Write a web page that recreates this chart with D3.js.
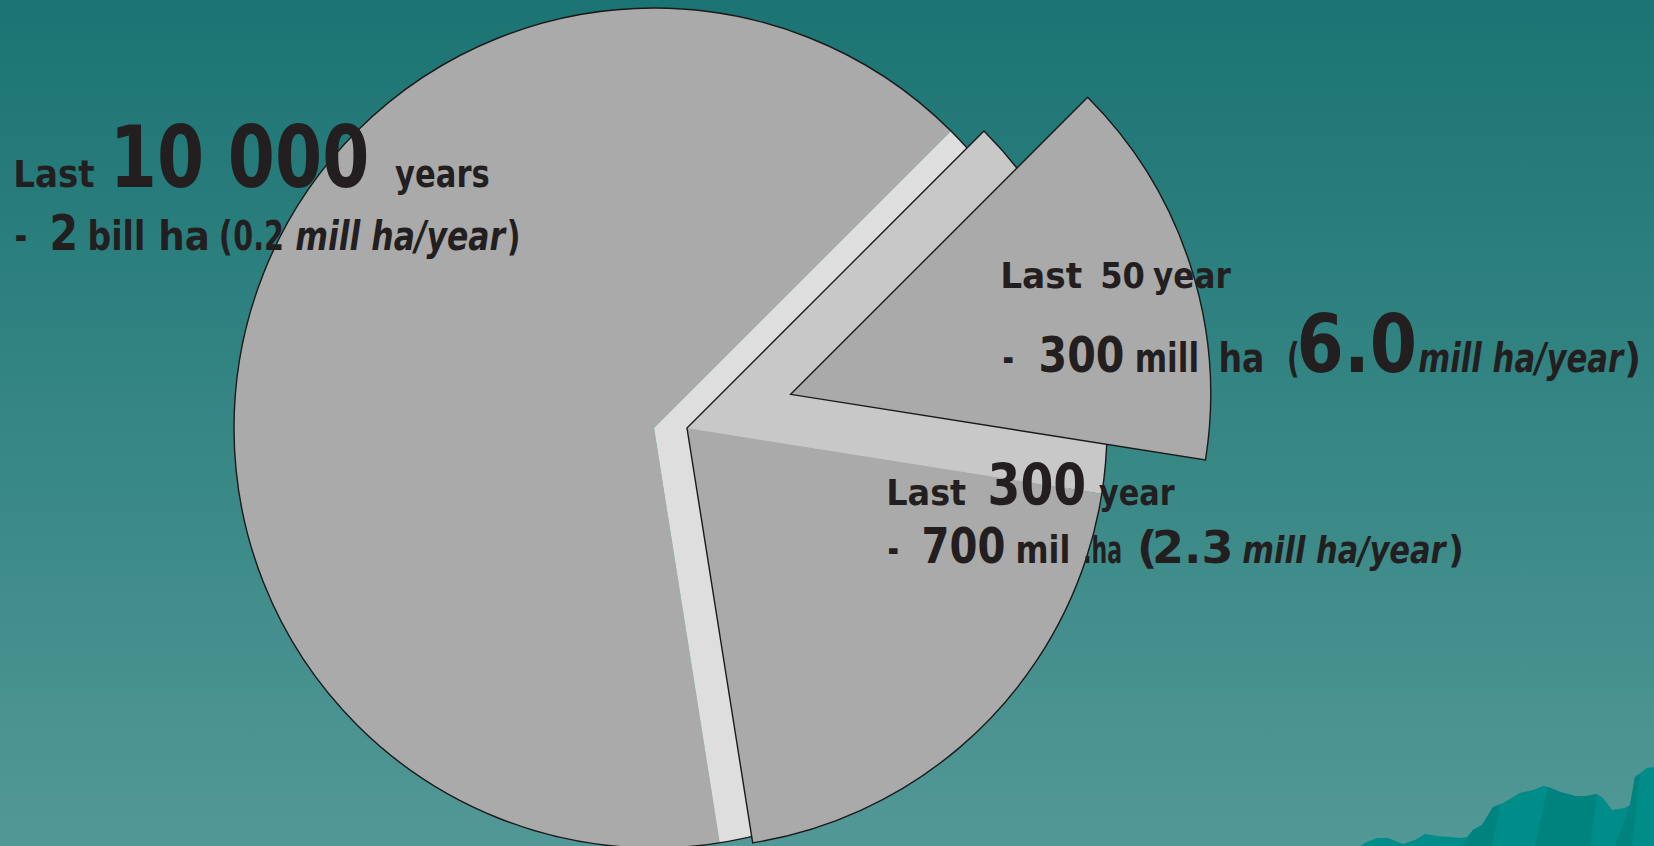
<!DOCTYPE html>
<html>
<head>
<meta charset="utf-8">
<script src="https://cdn.jsdelivr.net/npm/d3@7"></script>
<style>
  html, body { margin: 0; padding: 0; background: #1b7473; overflow: hidden; }
  svg { display: block; }
</style>
</head>
<body>
<svg id="chart" width="1654" height="846"></svg>
<script>
// ---- data (million ha of land converted, by period) ----
const categories = ["Last 50 years", "300 to 50 years ago", "10 000 to 300 years ago"];
const areaMillHa = [300, 400, 1300];          // sums to 2 000 mill ha (2 bill ha)
const periodYears = [50, 300, 10000];
const ratesMillHaPerYear = [6.0, 2.3, 0.2];

// label text lines (content), layout kept separately below
const labelText = [
  [["Last"], ["10 000"], ["years"]],
  [["-"], ["2"], ["bill"], ["ha"], ["("], ["0.2"], ["mill ha/year", "i"], [")"]],
  [["Last"], ["50"], ["year"]],
  [["-"], ["300"], ["mill"], ["ha"], ["("], ["6.0"], ["mill ha/year", "i"], [")"]],
  [["Last"], ["300"], ["year"]],
  [["-"], ["700"], ["mil"], [".ha"], ["("], ["2.3"], ["mill ha/year", "i"], [")"]]
];

// ---- layout ----
const W = 1654, H = 846;
const R = 420;
const A = [654, 428];            // pie centre
const shiftB = [33, 0];          // 300-year sector displacement
const explodeC = 109;            // 50-year sector further explode

const lineBase = [187, 250, 288, 372, 505, 563];
// [fontSize, inkLeft, inkRight] for each segment
const lineLayout = [
  [[37, 16, 94], [85, 117, 367], [37, 395, 489]],
  [[40, 16, 26], [50, 52, 75], [40, 90, 143], [40, 161, 207], [40, 221, 231], [40, 234, 282], [40, 296, 507], [40, 509, 518]],
  [[36, 1003, 1082], [36, 1102, 1144], [36, 1153, 1231]],
  [[40, 1004, 1013], [50, 1041, 1123], [40, 1137, 1197], [40, 1221, 1262], [40, 1289, 1298], [80, 1300, 1414], [40, 1419, 1625], [40, 1627, 1638]],
  [[36, 889, 966], [57, 990, 1084], [36, 1099, 1175]],
  [[40, 889, 898], [50, 924, 1004], [37, 1018, 1068], [37, 1085, 1121], [45, 1140, 1154], [45, 1155, 1230], [37, 1243, 1448], [37, 1450, 1461]]
];

const svg = d3.select("#chart");
const defs = svg.append("defs");
const grad = defs.append("linearGradient").attr("id", "bg").attr("x1", 0).attr("y1", 0).attr("x2", 0).attr("y2", 1);
grad.append("stop").attr("offset", "0%").attr("stop-color", "#1b7473");
grad.append("stop").attr("offset", "55%").attr("stop-color", "#388886");
grad.append("stop").attr("offset", "100%").attr("stop-color", "#529896");
svg.append("rect").attr("width", W).attr("height", H).attr("fill", "url(#bg)");

// decorative mountain silhouette (bottom right)
const mountain = [[1360,846],[1367,842],[1377,838],[1388,838],[1403,844],[1415,840],[1425,834],[1437,836],[1450,837],[1460,838],[1467,837],[1473,830],[1482,825],[1490,812],[1493,807],[1503,803],[1520,793],[1533,790],[1543,786],[1548,787],[1560,792],[1575,796],[1587,796],[1597,794],[1603,798],[1612,810],[1625,808],[1630,805],[1635,777],[1647,768],[1654,767],[1654,846]];
svg.append("path").attr("d", d3.line()(mountain) + "Z").attr("fill", "#008c88");
const facets = [
  [[1548,787],[1560,792],[1575,796],[1587,796],[1597,794],[1590,846],[1535,846]],
  [[1473,830],[1482,825],[1490,812],[1493,807],[1500,805],[1492,846],[1462,846]],
  [[1630,805],[1635,777],[1640,774],[1632,846],[1615,846]]
];
facets.forEach(f => svg.append("path").attr("d", d3.line()(f) + "Z").attr("fill", "#00827f"));

// ---- pie ----
const deg = Math.PI / 180;
const pie = d3.pie().sort(null).value(d => d).startAngle(45 * deg).endAngle(45 * deg + 2 * Math.PI);
const arcs = pie(areaMillHa);
const arc = d3.arc().innerRadius(0).outerRadius(R);
const recent = { startAngle: arcs[0].startAngle, endAngle: arcs[1].endAngle };

// layer A: full circle in place
const gA = svg.append("g").attr("transform", `translate(${A[0]},${A[1]})`);
gA.append("path").attr("d", arc(arcs[2])).attr("fill", "#aaaaaa");
gA.append("path").attr("d", arc(recent)).attr("fill", "#dedede");
gA.append("circle").attr("r", R).attr("fill", "none").attr("stroke", "#1a1a1a").attr("stroke-width", 1.4);

// layer B: last 300 years sector, displaced
const B = [A[0] + shiftB[0], A[1] + shiftB[1]];
const gB = svg.append("g").attr("transform", `translate(${B[0]},${B[1]})`);
gB.append("path").attr("d", arc(arcs[0])).attr("fill", "#c8c8c8");
gB.append("path").attr("d", arc(arcs[1])).attr("fill", "#aaaaaa");
gB.append("path").attr("d", arc(recent)).attr("fill", "none").attr("stroke", "#1a1a1a").attr("stroke-width", 1.4);

// layer C: last 50 years sector, exploded further
const mid = (arcs[0].startAngle + arcs[0].endAngle) / 2;
const C = [B[0] + explodeC * Math.sin(mid), B[1] - explodeC * Math.cos(mid)];
const gC = svg.append("g").attr("transform", `translate(${C[0]},${C[1]})`);
gC.append("path").attr("d", arc(arcs[0])).attr("fill", "#aaaaaa").attr("stroke", "#1a1a1a").attr("stroke-width", 1.4);

// ---- labels ----
const cv = document.createElement("canvas").getContext("2d");
const family = '"DejaVu Sans", "Liberation Sans", sans-serif';
const gT = svg.append("g");
labelText.forEach((line, li) => {
  line.forEach((seg, si) => {
    const [txt, style] = seg;
    const [size, x0, x1] = lineLayout[li][si];
    const italic = style === "i";
    cv.font = `${italic ? "italic " : ""}bold ${size}px ${family}`;
    const m = cv.measureText(txt);
    const ink = m.actualBoundingBoxLeft + m.actualBoundingBoxRight;
    let sx = (x1 - x0) / ink;
    if (txt.length === 1) sx = Math.min(sx, 1);
    const tx = x0 + sx * m.actualBoundingBoxLeft;
    gT.append("text")
      .attr("transform", `translate(${tx},${lineBase[li]}) scale(${sx},1)`)
      .attr("font-family", family)
      .attr("font-weight", "bold")
      .attr("font-style", italic ? "italic" : "normal")
      .attr("font-size", size)
      .attr("fill", "#231f20")
      .text(txt);
  });
});
</script>
</body>
</html>
